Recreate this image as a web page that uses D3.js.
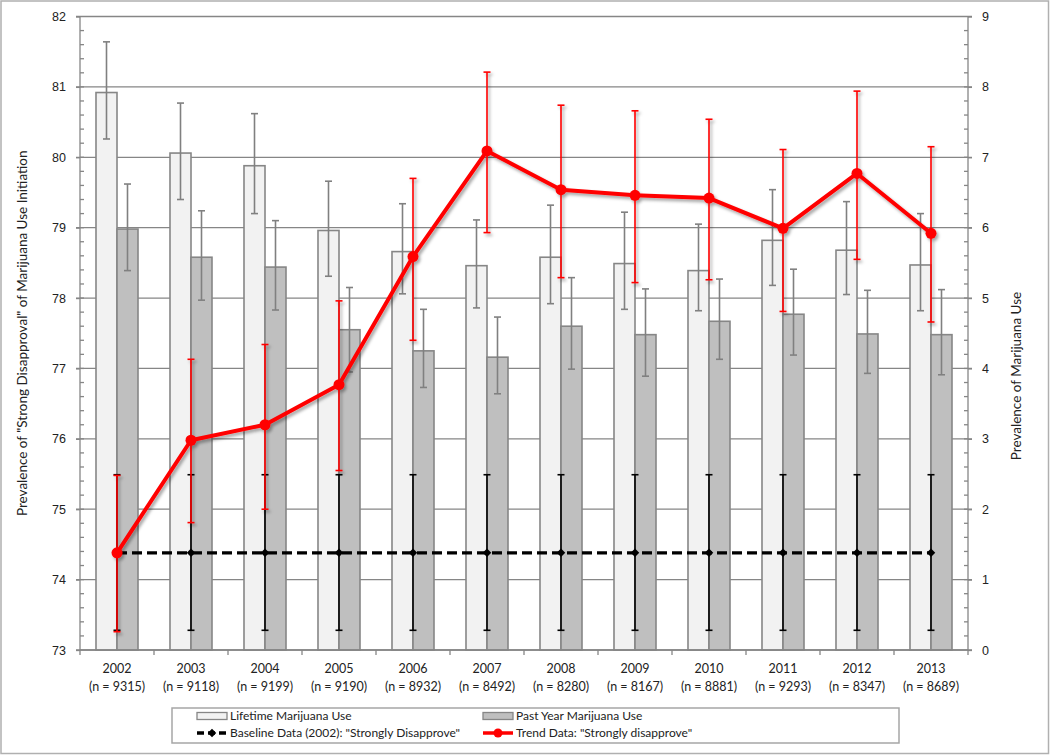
<!DOCTYPE html>
<html>
<head>
<meta charset="utf-8">
<script src="https://cdn.jsdelivr.net/npm/d3@7"></script>
<style>
  body { margin: 0; background: #fff; }
  svg { font-family: Lato, "Open Sans", sans-serif; }
  .axis path, .axis line { stroke: #868686; stroke-width: 1.3; }
  .axis text { fill: #222; font-size: 12.5px; }
</style>
</head>
<body>
<div id="chart"></div>
<script>
// values
var years = ["2002","2003","2004","2005","2006","2007","2008","2009","2010","2011","2012","2013"];
var sampleN = ["9315","9118","9199","9190","8932","8492","8280","8167","8881","9293","8347","8689"];

// bars, right axis (prevalence of use)
var lifetime   = [7.92, 7.06, 6.88, 5.96, 5.66, 5.46, 5.58, 5.49, 5.39, 5.82, 5.68, 5.47];
var lifetimeHi = [8.64, 7.77, 7.62, 6.66, 6.34, 6.11, 6.32, 6.22, 6.05, 6.54, 6.37, 6.20];
var lifetimeLo = [7.26, 6.40, 6.20, 5.31, 5.06, 4.86, 4.92, 4.84, 4.82, 5.18, 5.05, 4.82];
var pastYear   = [5.98, 5.58, 5.44, 4.55, 4.25, 4.16, 4.60, 4.48, 4.67, 4.77, 4.49, 4.48];
var pastYearHi = [6.62, 6.24, 6.10, 5.15, 4.84, 4.73, 5.29, 5.13, 5.27, 5.41, 5.11, 5.12];
var pastYearLo = [5.39, 4.97, 4.83, 3.95, 3.73, 3.64, 3.99, 3.89, 4.13, 4.19, 3.93, 3.91];

// lines, left axis (strong disapproval)
var trend   = [74.38, 75.98, 76.20, 76.77, 78.59, 80.09, 79.54, 79.46, 79.42, 78.99, 79.77, 78.92];
var trendHi = [75.48, 77.13, 77.34, 77.96, 79.70, 81.21, 80.74, 80.66, 80.54, 80.11, 80.94, 80.15];
var trendLo = [73.26, 74.81, 75.00, 75.55, 77.40, 78.93, 78.29, 78.22, 78.26, 77.81, 78.55, 77.66];
var baseline   = [74.38, 74.38, 74.38, 74.38, 74.38, 74.38, 74.38, 74.38, 74.38, 74.38, 74.38, 74.38];
var baselineHi = [75.49, 75.49, 75.49, 75.49, 75.49, 75.49, 75.49, 75.49, 75.49, 75.49, 75.49, 75.49];
var baselineLo = [73.28, 73.28, 73.28, 73.28, 73.28, 73.28, 73.28, 73.28, 73.28, 73.28, 73.28, 73.28];

var leftTicks = [73, 74, 75, 76, 77, 78, 79, 80, 81, 82];
var rightTicks = [0, 1, 2, 3, 4, 5, 6, 7, 8, 9];

var dim = { width: 1050, height: 755, left: 80, right: 968, top: 16.5, bottom: 650, barW: 21 };

var x = d3.scaleBand().domain(years).range([dim.left, dim.right]);
var yLeft = d3.scaleLinear().domain([73, 82]).range([dim.bottom, dim.top]);
var yRight = d3.scaleLinear().domain([0, 9]).range([dim.bottom, dim.top]);
function cx(i) { return x(years[i]) + x.bandwidth() / 2; }

var svg = d3.select("#chart").append("svg")
    .attr("width", dim.width)
    .attr("height", dim.height);

var defs = svg.append("defs");
var f = defs.append("filter").attr("id", "shadow")
    .attr("x", "-20%").attr("y", "-20%").attr("width", "140%").attr("height", "140%");
f.append("feDropShadow")
    .attr("dx", 2).attr("dy", 2.5).attr("stdDeviation", 1.6)
    .attr("flood-color", "#000").attr("flood-opacity", 0.35);

// outer frame
svg.append("rect")
    .attr("x", 1).attr("y", 1).attr("width", dim.width - 2.5).attr("height", dim.height - 2.5)
    .attr("fill", "none").attr("stroke", "#b0b0b0").attr("stroke-width", 1.5);

// gridlines (also act as major ticks on both sides)
svg.append("g").selectAll("line").data(leftTicks).enter().append("line")
    .attr("x1", dim.left - 4).attr("x2", dim.right + 4)
    .attr("y1", function(d) { return yLeft(d); })
    .attr("y2", function(d) { return yLeft(d); })
    .attr("stroke", "#868686").attr("stroke-width", 1.3);

// bars
function drawBars(vals, cls, fill, offset) {
  svg.append("g").attr("class", cls).selectAll("rect").data(vals).enter().append("rect")
      .attr("x", function(d, i) { return cx(i) + offset; })
      .attr("width", dim.barW)
      .attr("y", function(d) { return yRight(d); })
      .attr("height", function(d) { return yRight(0) - yRight(d); })
      .attr("fill", fill).attr("stroke", "#868686").attr("stroke-width", 1.6);
}
drawBars(lifetime, "lifetime", "#f2f2f2", -dim.barW);
drawBars(pastYear, "pastyear", "#bfbfbf", 0);

function errorBars(g, xs, lo, hi, scale, color, width, cap) {
  var e = g.append("g").selectAll("g").data(lo).enter().append("g");
  e.append("line")
      .attr("x1", function(d, i) { return xs(i); }).attr("x2", function(d, i) { return xs(i); })
      .attr("y1", function(d, i) { return scale(lo[i]); })
      .attr("y2", function(d, i) { return scale(hi[i]); });
  e.append("line")
      .attr("x1", function(d, i) { return xs(i) - cap; }).attr("x2", function(d, i) { return xs(i) + cap; })
      .attr("y1", function(d, i) { return scale(hi[i]); })
      .attr("y2", function(d, i) { return scale(hi[i]); });
  e.append("line")
      .attr("x1", function(d, i) { return xs(i) - cap; }).attr("x2", function(d, i) { return xs(i) + cap; })
      .attr("y1", function(d, i) { return scale(lo[i]); })
      .attr("y2", function(d, i) { return scale(lo[i]); });
  e.selectAll("line").attr("stroke", color).attr("stroke-width", width);
}
var barErr = svg.append("g").attr("class", "bar-errors");
errorBars(barErr, function(i) { return cx(i) - dim.barW / 2; }, lifetimeLo, lifetimeHi, yRight, "#808080", 1.6, 3.5);
errorBars(barErr, function(i) { return cx(i) + dim.barW / 2; }, pastYearLo, pastYearHi, yRight, "#808080", 1.6, 3.5);

// axes
var leftAxis = svg.append("g").attr("class", "axis")
    .attr("transform", "translate(" + dim.left + ",0)")
    .call(d3.axisLeft(yLeft).tickValues(leftTicks).tickSize(4).tickPadding(10));
leftAxis.append("g").selectAll("line").data(d3.range(73.2, 82, 0.2)).enter().append("line")
    .attr("x1", 0).attr("x2", 4)
    .attr("y1", function(d) { return yLeft(d); }).attr("y2", function(d) { return yLeft(d); });

var rightAxis = svg.append("g").attr("class", "axis")
    .attr("transform", "translate(" + dim.right + ",0)")
    .call(d3.axisRight(yRight).tickValues(rightTicks).tickSize(4).tickPadding(10));
rightAxis.append("g").selectAll("line").data(d3.range(0.2, 9, 0.2)).enter().append("line")
    .attr("x1", -4).attr("x2", 0)
    .attr("y1", function(d) { return yRight(d); }).attr("y2", function(d) { return yRight(d); });
svg.selectAll(".axis .domain").attr("d", function() {
  return "M0," + dim.top + "V" + dim.bottom;
});

var xAxis = svg.append("g").attr("class", "axis")
    .attr("transform", "translate(0," + dim.bottom + ")");
xAxis.append("line").attr("x1", dim.left).attr("x2", dim.right);
xAxis.selectAll("line.tick").data(d3.range(years.length + 1)).enter().append("line")
    .attr("class", "tick")
    .attr("x1", function(d) { return dim.left + d * x.bandwidth(); })
    .attr("x2", function(d) { return dim.left + d * x.bandwidth(); })
    .attr("y1", 0).attr("y2", 5);
var xl = xAxis.selectAll("text").data(years).enter().append("text")
    .attr("text-anchor", "middle")
    .attr("transform", function(d, i) { return "translate(" + cx(i) + ",0)"; });
xl.append("tspan").attr("x", 0).attr("y", 23).text(function(d) { return d; });
xl.append("tspan").attr("x", 0).attr("y", 41).text(function(d, i) { return "(n = " + sampleN[i] + ")"; });

// axis titles
svg.append("text")
    .attr("transform", "translate(27," + ((dim.top + dim.bottom) / 2) + ") rotate(-90)")
    .attr("text-anchor", "middle").attr("font-size", "13.5px").attr("fill", "#222")
    .text("Prevalence of \"Strong Disapproval\" of Marijuana Use Initiation");
svg.append("text")
    .attr("transform", "translate(1021,376) rotate(-90)")
    .attr("text-anchor", "middle").attr("font-size", "13.5px").attr("fill", "#222")
    .text("Prevalence of Marijuana Use");

// baseline (2002) dashed line
var baseG = svg.append("g").attr("class", "baseline");
errorBars(baseG, cx, baselineLo, baselineHi, yLeft, "#000", 1.6, 3.5);
var line = d3.line()
    .x(function(d, i) { return cx(i); })
    .y(function(d) { return yLeft(d); });
baseG.append("path").datum(baseline)
    .attr("d", line).attr("fill", "none")
    .attr("stroke", "#000").attr("stroke-width", 3.3).attr("stroke-dasharray", "10,5");
var diamond = d3.symbol().type(d3.symbolSquare).size(36);
baseG.selectAll("path.pt").data(baseline).enter().append("path")
    .attr("class", "pt")
    .attr("d", diamond)
    .attr("transform", function(d, i) { return "translate(" + cx(i) + "," + yLeft(d) + ") rotate(45)"; })
    .attr("fill", "#000");

// trend line
var trendG = svg.append("g").attr("class", "trend").attr("filter", "url(#shadow)");
errorBars(trendG, cx, trendLo, trendHi, yLeft, "#ff0000", 1.6, 3.5);
trendG.append("path").datum(trend)
    .attr("d", line).attr("fill", "none")
    .attr("stroke", "#ff0000").attr("stroke-width", 4).attr("stroke-linejoin", "round");
trendG.selectAll("circle").data(trend).enter().append("circle")
    .attr("cx", function(d, i) { return cx(i); })
    .attr("cy", function(d) { return yLeft(d); })
    .attr("r", 5.5).attr("fill", "#ff0000");

// legend
var lg = svg.append("g").attr("class", "legend").attr("font-size", "12px").attr("fill", "#222");
lg.append("rect")
    .attr("x", 172).attr("y", 708).attr("width", 727).attr("height", 35)
    .attr("fill", "#fff").attr("stroke", "#a6a6a6").attr("stroke-width", 1.5);
var legendItems = [
  { label: "Lifetime Marijuana Use", type: "bar", fill: "#f2f2f2", x: 197, y: 716 },
  { label: "Past Year Marijuana Use", type: "bar", fill: "#bfbfbf", x: 483, y: 716 },
  { label: "Baseline Data (2002): \"Strongly Disapprove\"", type: "base", x: 197, y: 733 },
  { label: "Trend Data: \"Strongly disapprove\"", type: "trend", x: 483, y: 733 }
];
legendItems.forEach(function(d) {
  var g = lg.append("g").attr("transform", "translate(" + d.x + "," + d.y + ")");
  if (d.type === "bar") {
    g.append("rect").attr("x", 0).attr("y", -3.5).attr("width", 30).attr("height", 7)
        .attr("fill", d.fill).attr("stroke", "#868686").attr("stroke-width", 1.3);
  } else if (d.type === "base") {
    g.append("line").attr("x1", 0).attr("x2", 30).attr("y1", 0).attr("y2", 0)
        .attr("stroke", "#000").attr("stroke-width", 3.3).attr("stroke-dasharray", "7,4");
    g.append("path").attr("d", diamond).attr("transform", "translate(15,0) rotate(45)").attr("fill", "#000");
  } else {
    g.append("line").attr("x1", 0).attr("x2", 30).attr("y1", 0).attr("y2", 0)
        .attr("stroke", "#ff0000").attr("stroke-width", 3.5);
    g.append("circle").attr("cx", 15).attr("cy", 0).attr("r", 4.5).attr("fill", "#ff0000");
  }
  g.append("text").attr("x", 33).attr("y", 0).attr("dy", "0.35em").text(d.label);
});
</script>
</body>
</html>
